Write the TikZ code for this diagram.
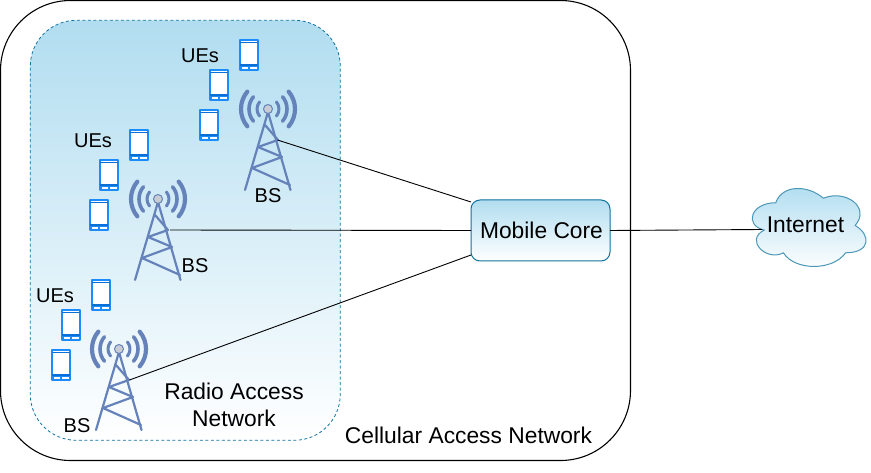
\documentclass[tikz,border=0pt]{standalone}
\usepackage{fontspec}
\setmainfont{Liberation Sans}
\definecolor{towerblue}{HTML}{6583BA}
\definecolor{phoneblue}{HTML}{1A8CFF}
\definecolor{phonedark}{HTML}{0B6FD8}
\definecolor{gradtop}{HTML}{B1DDF0}
\definecolor{ranline}{HTML}{10739E}
\definecolor{ballgrey}{HTML}{C9CDD3}
\tikzset{
  box/.style={draw,rectangle,outer sep=0pt,inner sep=0pt},
  grad/.style={top color=gradtop,bottom color=white},
  big/.style={font=\fontsize{22.8}{27}\selectfont,align=center,inner sep=0pt},
  small/.style={font=\fontsize{20}{23}\selectfont,inner sep=0pt},
  link/.style={draw=black,line width=0.9pt},
  tower/.pic={
    \begin{scope}[towerblue,line cap=round]
      \foreach \r/\w in {11/3.0,19/3.6,27/4.2}{
        \draw[line width=\w pt] (40:\r) arc[start angle=40,end angle=-40,radius=\r];
        \draw[line width=\w pt] (140:\r) arc[start angle=140,end angle=220,radius=\r];
      }
      \draw[line width=2.2pt] (-23,81) -- (0,3) -- (22.5,81);
      \draw[line width=2.2pt] (-3,16) -- (10,31) -- (-10,38) -- (14,48) -- (-16,59) -- (22,76);
    \end{scope}
    \draw[towerblue,line width=1pt,fill=ballgrey] (0,0) circle[radius=4.5];
  },
  phone/.pic={
    \draw[phoneblue,line width=2pt,fill=white] (1,1) rectangle (19,31);
    \fill[phonedark] (1,2.6) rectangle (19,4.2);
    \fill[phonedark] (1,25.4) rectangle (19,26.8);
    \fill[phoneblue] (1,26.8) rectangle (19,31);
    \fill[white] (2.5,27.8) rectangle (9,29.6);
    \fill[white] (11,27.8) rectangle (17.5,29.6);
  }
}
\begin{document}
\begin{tikzpicture}[x=1pt,y=-1pt,line join=round]
\useasboundingbox (0,0) rectangle (871,473);
\node[box,draw=black,line width=1.1pt,fill=white,rounded corners=70pt,minimum width=630pt,minimum height=460pt] (can) at (315.5,230.5) {};
\node[box,draw=ranline,dashed,dash pattern=on 3pt off 2.5pt,line width=0.8pt,grad,rounded corners=46pt,minimum width=310pt,minimum height=420pt] (ran) at (185.3,230.3) {};
\node[box,draw=ranline,line width=1pt,grad,rounded corners=9pt,minimum width=139pt,minimum height=61pt] (core) at (540.5,230.5) {};
\node[big] (coretext) at (541.5,230.5) {Mobile Core};
% cloud
\begin{scope}[shift={(744,180)},x=127pt,y=-91pt]
  \path[draw=ranline!75,line width=1pt,grad] (0.25,0.25)
    .. controls (0.05,0.25) and (0,0.5) .. (0.16,0.55)
    .. controls (0,0.66) and (0.18,0.9) .. (0.31,0.8)
    .. controls (0.4,1) and (0.7,1) .. (0.8,0.8)
    .. controls (1,0.8) and (1,0.6) .. (0.875,0.5)
    .. controls (1,0.3) and (0.8,0.1) .. (0.625,0.2)
    .. controls (0.5,0.05) and (0.3,0.05) .. (0.25,0.25) -- cycle;
\end{scope}
\node[big] (inet) at (805.5,225) {Internet};
\coordinate (inetin) at (762,229.5);
% towers
\pic at (268,109) {tower};
\pic at (158,199) {tower};
\pic at (119,349) {tower};
\coordinate (bsa) at (277.5,140);
\coordinate (bsb) at (170,230);
\coordinate (bsc) at (129.5,380);
\draw[link] (bsa) -- (core.north west |- 0,202);
\draw[link] (bsb) -- (core.west);
\draw[link] (bsc) -- (core.south west |- 0,255);
\draw[link] (core.east) -- (inetin);
% phones
\foreach \x/\y in {239/39,209/69,199/109,129/129,99/159,89/199,91/279,61/309,51/349}
  \pic at (\x,\y) {phone};
% labels
\node[small] (ue1) at (200,56) {UEs};
\node[small] (ue2) at (93,141) {UEs};
\node[small] (ue3) at (55,296) {UEs};
\node[small] (bs1) at (268,196) {BS};
\node[small] (bs2) at (195,266) {BS};
\node[small] (bs3) at (77,426) {BS};
\node[big] (rantext) at (234,405) {Radio Access\\Network};
\node[big] (cantext) at (468.5,435) {Cellular Access Network};
\end{tikzpicture}
\end{document}
